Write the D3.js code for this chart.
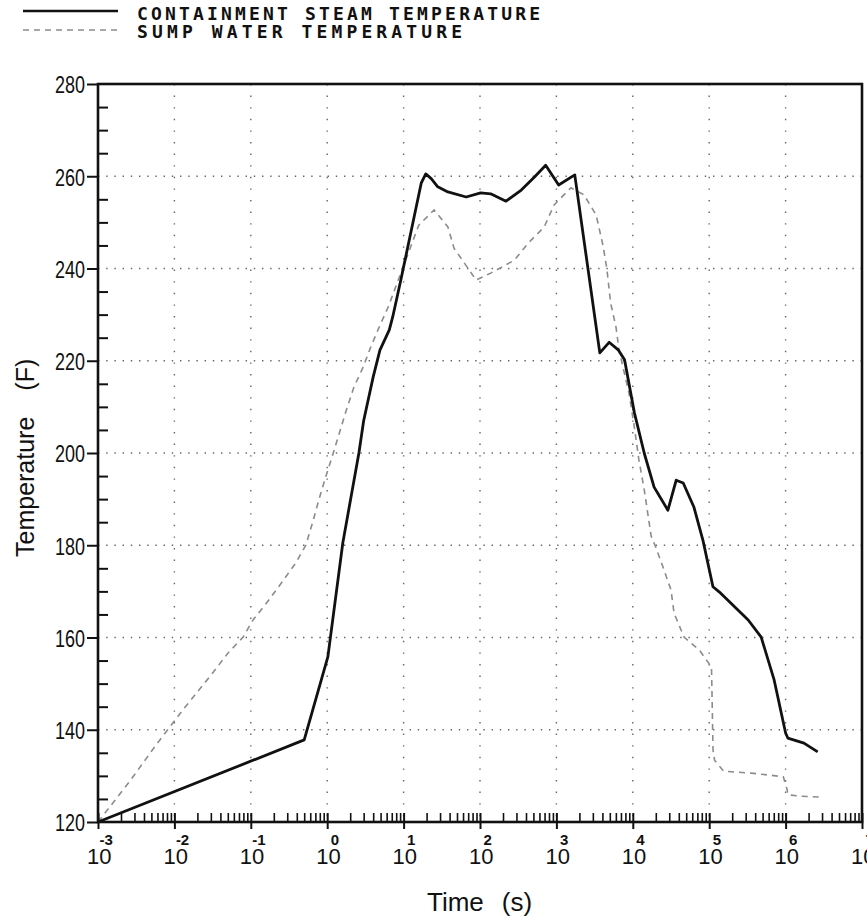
<!DOCTYPE html>
<html>
<head>
<meta charset="utf-8">
<script src="https://cdn.jsdelivr.net/npm/d3@7"></script>
<style>
  html, body { margin: 0; padding: 0; background: #fff; }
  svg { display: block; }
</style>
</head>
<body>
<svg id="chart" width="867" height="917"></svg>
<script>
// ---------- DATA ----------
const legendLabels = ["CONTAINMENT STEAM TEMPERATURE", "SUMP WATER TEMPERATURE"];
const xTitle = ["Time", "(s)"];
const yTitle = ["Temperature", "(F)"];
const xDecadeExponents = [-3, -2, -1, 0, 1, 2, 3, 4, 5, 6, 7];
const yTickValues = [120, 140, 160, 180, 200, 220, 240, 260, 280];

const steamTime = [0.001, 0.5, 1.02, 1.6, 2.6, 3.0, 4.0, 4.9, 6.5, 7.2, 9.2, 17, 19.5, 23, 28, 38, 66, 102, 138, 219, 347, 513, 724, 1070, 1740,
  3700, 4900, 6500, 7800, 10500, 14100, 19000, 28800, 37000, 45700, 63000, 83000, 112000, 135000, 324000, 479000, 708000,
  1000000, 1070000, 1740000, 2630000];
const steamTemp = [120, 137.8, 155.8, 180.5, 200, 207, 216.5, 222.3, 226.7, 229.5, 237.5, 258.5, 260.5, 259.5, 257.7, 256.6, 255.5, 256.4, 256.2, 254.6, 257, 259.8, 262.4, 258.1, 260.3,
  221.7, 224, 222.3, 220.2, 208.7, 200, 192.6, 187.6, 194.1, 193.5, 188.3, 181, 171, 169.9, 163.8, 160.1, 150.8,
  139.3, 138.2, 137.1, 135.2];

const sumpTime = [0.001, 0.00257, 0.00575, 0.0085, 0.0135, 0.0324, 0.0501, 0.0794, 0.107, 0.17, 0.251, 0.389, 0.525, 0.646, 0.776, 0.955,
  1.2, 1.78, 2.24, 2.95, 3.72, 4.79, 6.31, 8.51, 15.8, 25.1, 38, 45.7, 89, 138, 282, 427, 692, 933, 1549,
  2291, 3311, 4074, 4571, 5129, 6026, 6607, 8913, 10471, 12023, 14125, 17378, 19953, 25704, 31623, 34674, 46774, 74131,
  107152, 109648, 112202, 117490, 154882, 354813, 588844, 933254, 1047129, 1071519, 1584893, 2754229];
const sumpTemp = [120, 128.7, 136.7, 140.4, 144.7, 152.5, 156.6, 160.1, 163.8, 168, 171.8, 176.2, 180, 185, 189.8, 194.8,
  200, 209.3, 214.3, 218.6, 223, 227.3, 231.7, 237.5, 249.4, 252.7, 249, 244.4, 237.5, 239, 241.8, 245.5, 249, 253.8, 257.5,
  256, 251.6, 245, 240, 232.5, 227.3, 222.3, 213, 205.6, 198.5, 192, 182, 179.6, 174.6, 170.3, 165.3, 160.1, 157.3,
  153.6, 145, 135.6, 133.4, 131, 130.6, 130.2, 129.8, 127, 125.9, 125.6, 125.4];

// ---------- LAYOUT ----------
(function () {
const svg = d3.select("#chart");
svg.append("rect").attr("width", 867).attr("height", 917).attr("fill", "#fff");

const pL = 98, pR = 862, pT = 84, pB = 822;
const x = d3.scaleLog().domain([1e-3, 1e7]).range([pL, pR]);
const y = d3.scaleLinear().domain([120, 280]).range([pB, pT]);

const ink = "#111";

// ---------- GRID ----------
const grid = svg.append("g");
const decades = xDecadeExponents.map(e => Math.pow(10, e));
grid.selectAll("line.vg").data(decades.slice(1, -1)).join("line")
  .attr("x1", d => x(d)).attr("x2", d => x(d))
  .attr("y1", pT).attr("y2", pB)
  .attr("stroke", "#666").attr("stroke-width", 1.4)
  .attr("stroke-dasharray", "1.4,10.2");
grid.selectAll("line.hg").data(yTickValues.slice(1, -1)).join("line")
  .attr("x1", pL).attr("x2", pR)
  .attr("y1", d => y(d)).attr("y2", d => y(d))
  .attr("stroke", "#666").attr("stroke-width", 1.4)
  .attr("stroke-dasharray", "1.4,6.8");

// ---------- SERIES ----------
const line = d3.line().x(d => x(d[0])).y(d => y(d[1])).curve(d3.curveLinear);
const sump = sumpTime.map((t, i) => [t, sumpTemp[i]]);
const steam = steamTime.map((t, i) => [t, steamTemp[i]]);

svg.append("path").datum(sump).attr("d", line)
  .attr("fill", "none").attr("stroke", "#8c8c8c").attr("stroke-width", 1.6)
  .attr("stroke-dasharray", "6,5");
svg.append("path").datum(steam).attr("d", line)
  .attr("fill", "none").attr("stroke", ink).attr("stroke-width", 2.8)
  .attr("stroke-linejoin", "round");

// ---------- AXES ----------
const axX = svg.append("g").attr("transform", `translate(0,${pB})`)
  .call(d3.axisBottom(x).tickValues(decades).tickSize(7).tickFormat(""));
axX.select(".domain").remove();
axX.selectAll(".tick line").attr("stroke", ink).attr("stroke-width", 2).attr("y1", -9);

const minorVals = [];
decades.slice(0, -1).forEach(d => { for (let k = 2; k <= 9; k++) minorVals.push(d * k); });
const axXm = svg.append("g").attr("transform", `translate(0,${pB})`)
  .call(d3.axisTop(x).tickValues(minorVals).tickSize(9).tickFormat(""));
axXm.select(".domain").remove();
axXm.selectAll(".tick line").attr("stroke", ink).attr("stroke-width", 1.6);

// X labels: 10 with superscript exponent (single text element each)
const xl = svg.append("g").attr("font-family", "'Liberation Sans', Arial, sans-serif").attr("fill", ink);
const xlt = xl.selectAll("text").data(xDecadeExponents).join("text")
  .attr("x", e => x(Math.pow(10, e)) - 11).attr("y", 864)
  .attr("font-size", 22);
xlt.append("tspan").text("10");
xlt.append("tspan").attr("dx", e => e < 0 ? -12 : -10).attr("dy", -19)
  .attr("font-size", 15).attr("font-weight", "bold")
  .text(e => String(e));

const axY = svg.append("g").attr("transform", `translate(${pL},0)`)
  .call(d3.axisLeft(y).tickValues(yTickValues).tickSize(11).tickPadding(2).tickFormat(d3.format("d")));
axY.select(".domain").remove();
axY.selectAll(".tick line").attr("stroke", ink).attr("stroke-width", 2);
axY.selectAll(".tick text")
  .attr("font-family", "'Liberation Sans', Arial, sans-serif").attr("font-size", 24)
  .attr("fill", ink).attr("dy", "0.62em").attr("y", -6)
  .attr("textLength", 30).attr("lengthAdjust", "spacingAndGlyphs");

const yMinor = d3.range(125, 280, 5).filter(v => v % 20 !== 0);
const axYm = svg.append("g").attr("transform", `translate(${pL},0)`)
  .call(d3.axisRight(y).tickValues(yMinor).tickSize(10).tickFormat(""));
axYm.select(".domain").remove();
axYm.selectAll(".tick line").attr("stroke", ink).attr("stroke-width", 2);

// Frame
svg.append("rect").attr("x", pL).attr("y", pT).attr("width", pR - pL).attr("height", pB - pT)
  .attr("fill", "none").attr("stroke", ink).attr("stroke-width", 2.6);

// ---------- TITLES ----------
const xt = svg.append("text").attr("x", 427).attr("y", 911)
  .attr("font-family", "'Liberation Sans', Arial, sans-serif").attr("font-size", 26).attr("fill", ink);
xt.append("tspan").text(xTitle[0]);
xt.append("tspan").attr("dx", 18).text(xTitle[1]);

const yt = svg.append("text").attr("transform", "translate(34,557) rotate(-90)")
  .attr("font-family", "'Liberation Sans', Arial, sans-serif").attr("font-size", 25).attr("fill", ink);
yt.append("tspan").text(yTitle[0]);
yt.append("tspan").attr("dx", 26).text(yTitle[1]);

// ---------- LEGEND ----------
const lg = svg.append("g");
lg.append("line").attr("x1", 23).attr("x2", 118).attr("y1", 11).attr("y2", 11)
  .attr("stroke", ink).attr("stroke-width", 2.6);
lg.append("line").attr("x1", 23).attr("x2", 118).attr("y1", 30).attr("y2", 30)
  .attr("stroke", "#8c8c8c").attr("stroke-width", 1.6).attr("stroke-dasharray", "6,5");
lg.append("text").attr("x", 137).attr("y", 20)
  .attr("font-family", "'DejaVu Sans Mono', monospace").attr("font-weight", "bold").attr("font-size", 18)
  .attr("fill", ink).attr("textLength", 403).attr("lengthAdjust", "spacing")
  .text(legendLabels[0]);
lg.append("text").attr("x", 137).attr("y", 38)
  .attr("font-family", "'DejaVu Sans Mono', monospace").attr("font-weight", "bold").attr("font-size", 18)
  .attr("fill", ink).attr("textLength", 325).attr("lengthAdjust", "spacing")
  .text(legendLabels[1]);
})();
</script>
</body>
</html>
